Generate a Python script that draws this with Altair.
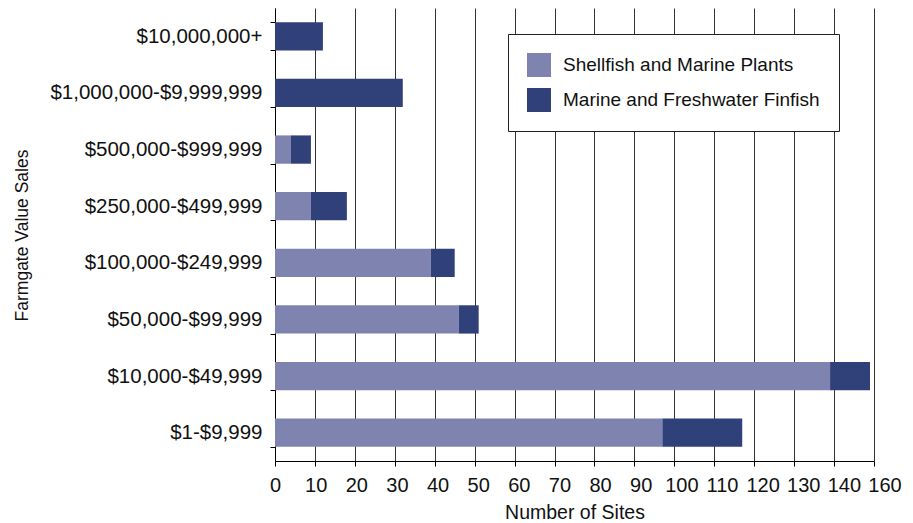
import altair as alt
import pandas as pd

# Farmgate value bands, listed top to bottom
categories = [
    "$10,000,000+",
    "$1,000,000-$9,999,999",
    "$500,000-$999,999",
    "$250,000-$499,999",
    "$100,000-$249,999",
    "$50,000-$99,999",
    "$10,000-$49,999",
    "$1-$9,999",
]
shellfish = [0, 0, 4, 9, 39, 46, 139, 97]
finfish = [12, 32, 5, 9, 6, 5, 10, 20]

series = ["Shellfish and Marine Plants", "Marine and Freshwater Finfish"]
series_colors = ["#7e84af", "#30417a"]

tick_values = [0, 10, 20, 30, 40, 50, 60, 70, 80, 90, 100, 110, 120, 130, 140, 150]
tick_labels = ["0", "10", "20", "30", "40", "50", "60", "70", "80", "90",
               "100", "110", "120", "130", "140", "160"]

rows = []
for cat, s, f in zip(categories, shellfish, finfish):
    for k, (name, val) in enumerate(zip(series, [s, f])):
        if val > 0:
            rows.append({"band": cat, "series": name, "sites": val, "stack_order": k})
df = pd.DataFrame(rows)

label_expr = " : ".join(
    f"datum.value == {v} ? '{t}'" for v, t in zip(tick_values, tick_labels)
) + " : datum.label"

FONT = "Liberation Sans"
TEXT = "#111111"

chart = alt.Chart(df).mark_bar().encode(
    x=alt.X(
        "sites:Q",
        stack="zero",
        scale=alt.Scale(domain=[0, 150], nice=False),
        axis=alt.Axis(
            title="Number of Sites",
            values=tick_values,
            labelExpr=label_expr,
            labelOverlap=False,
            labelFlush=False,
            labelOffset={"expr": "datum.value * 0.07"},
            grid=True,
            gridColor="#333333",
            gridWidth=1,
            tickSize=5,
            tickColor="#000000",
            domainColor="#000000",
            labelPadding=9,
            labelFontSize=20,
            labelColor=TEXT,
            titleFontSize=19.5,
            titleFontWeight="normal",
            titleColor=TEXT,
            titleY=51,
            titleBaseline="middle",
        ),
    ),
    y=alt.Y(
        "band:N",
        sort=categories,
        scale=alt.Scale(paddingInner=0.5, paddingOuter=0.25),
        axis=alt.Axis(
            title="Farmgate Value Sales",
            tickBand="extent",
            tickSize=5,
            tickColor="#000000",
            domainColor="#000000",
            labelPadding=8,
            labelFontSize=20.5,
            labelColor=TEXT,
            labelLimit=300,
            titleFontSize=17.5,
            titleFontWeight="normal",
            titleColor=TEXT,
            titleX=-253,
            titleY=227,
            titleAlign="center",
            titleBaseline="middle",
            titleAngle=-90,
        ),
    ),
    color=alt.Color(
        "series:N",
        scale=alt.Scale(domain=series, range=series_colors),
        legend=alt.Legend(
            title=None,
            orient="none",
            legendX=233,
            legendY=26,
            fillColor="#ffffff",
            strokeColor="#222222",
            padding=19,
            symbolType="square",
            symbolSize=576,
            symbolStrokeWidth=0,
            symbolOpacity=1,
            labelFontSize=19,
            labelColor=TEXT,
            labelOffset=12,
            rowPadding=11,
            labelLimit=400,
        ),
    ),
    order=alt.Order("stack_order:Q"),
).properties(
    width=599,
    height=453,
    autosize=alt.AutoSizeParams(type="none"),
    padding={"left": 275, "top": 8, "right": 39, "bottom": 62},
).configure(
    font=FONT,
).configure_view(
    strokeWidth=0,
)

chart.save("out.html", embed_options={"renderer": "svg", "actions": False})
